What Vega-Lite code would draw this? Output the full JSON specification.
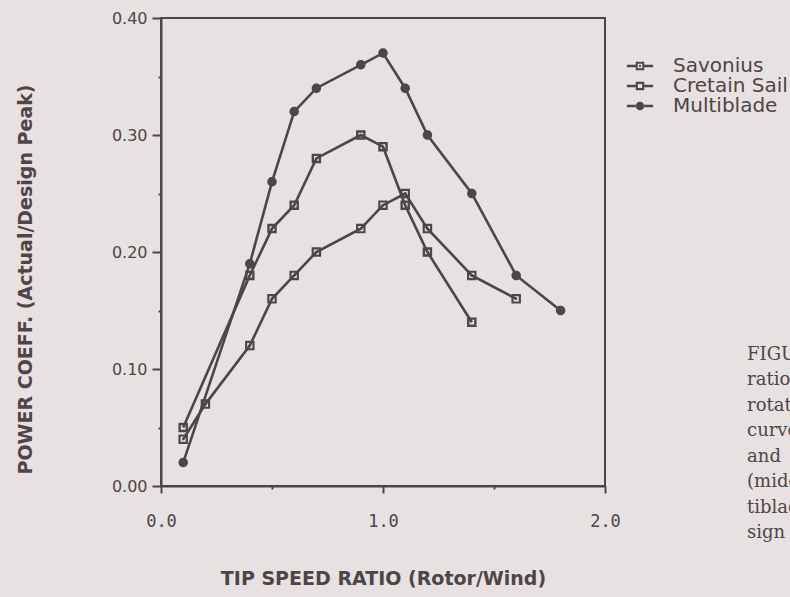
{
  "$schema": "https://vega.github.io/schema/vega-lite/v6.json",
  "width": 444,
  "height": 468,
  "autosize": {"type": "none"},
  "padding": {"left": 161, "top": 18, "right": 185, "bottom": 111},
  "background": "#e7e1e2",
  "datasets": {
    "curves": [
      {"rotor": "Savonius", "tsr": 0.1, "cp": 0.04},
      {"rotor": "Savonius", "tsr": 0.2, "cp": 0.07},
      {"rotor": "Savonius", "tsr": 0.4, "cp": 0.12},
      {"rotor": "Savonius", "tsr": 0.5, "cp": 0.16},
      {"rotor": "Savonius", "tsr": 0.6, "cp": 0.18},
      {"rotor": "Savonius", "tsr": 0.7, "cp": 0.20},
      {"rotor": "Savonius", "tsr": 0.9, "cp": 0.22},
      {"rotor": "Savonius", "tsr": 1.0, "cp": 0.24},
      {"rotor": "Savonius", "tsr": 1.1, "cp": 0.25},
      {"rotor": "Savonius", "tsr": 1.2, "cp": 0.22},
      {"rotor": "Savonius", "tsr": 1.4, "cp": 0.18},
      {"rotor": "Savonius", "tsr": 1.6, "cp": 0.16},
      {"rotor": "Cretain Sail", "tsr": 0.1, "cp": 0.05},
      {"rotor": "Cretain Sail", "tsr": 0.4, "cp": 0.18},
      {"rotor": "Cretain Sail", "tsr": 0.5, "cp": 0.22},
      {"rotor": "Cretain Sail", "tsr": 0.6, "cp": 0.24},
      {"rotor": "Cretain Sail", "tsr": 0.7, "cp": 0.28},
      {"rotor": "Cretain Sail", "tsr": 0.9, "cp": 0.30},
      {"rotor": "Cretain Sail", "tsr": 1.0, "cp": 0.29},
      {"rotor": "Cretain Sail", "tsr": 1.1, "cp": 0.24},
      {"rotor": "Cretain Sail", "tsr": 1.2, "cp": 0.20},
      {"rotor": "Cretain Sail", "tsr": 1.4, "cp": 0.14},
      {"rotor": "Multiblade", "tsr": 0.1, "cp": 0.02},
      {"rotor": "Multiblade", "tsr": 0.4, "cp": 0.19},
      {"rotor": "Multiblade", "tsr": 0.5, "cp": 0.26},
      {"rotor": "Multiblade", "tsr": 0.6, "cp": 0.32},
      {"rotor": "Multiblade", "tsr": 0.7, "cp": 0.34},
      {"rotor": "Multiblade", "tsr": 0.9, "cp": 0.36},
      {"rotor": "Multiblade", "tsr": 1.0, "cp": 0.37},
      {"rotor": "Multiblade", "tsr": 1.1, "cp": 0.34},
      {"rotor": "Multiblade", "tsr": 1.2, "cp": 0.30},
      {"rotor": "Multiblade", "tsr": 1.4, "cp": 0.25},
      {"rotor": "Multiblade", "tsr": 1.6, "cp": 0.18},
      {"rotor": "Multiblade", "tsr": 1.8, "cp": 0.15}
    ],
    "caption": [
      {"text": "FIGURE", "tsr": 2.64, "cp": 0.112},
      {"text": "ratio", "tsr": 2.64, "cp": 0.0906},
      {"text": "rotation", "tsr": 2.64, "cp": 0.0684},
      {"text": "curves", "tsr": 2.64, "cp": 0.047},
      {"text": "and", "tsr": 2.64, "cp": 0.0248},
      {"text": "(middle", "tsr": 2.64, "cp": 0.0034},
      {"text": "tiblade", "tsr": 2.64, "cp": -0.0188},
      {"text": "sign", "tsr": 2.64, "cp": -0.0402}
    ]
  },
  "layer": [
    {
      "data": {"name": "curves"},
      "mark": {"type": "line", "color": "#4e4546", "strokeWidth": 2.6},
      "encoding": {
        "x": {
          "field": "tsr", "type": "quantitative",
          "scale": {"domain": [0, 2], "nice": false, "zero": false},
          "axis": {
            "title": "TIP SPEED RATIO (Rotor/Wind)",
            "values": [0, 0.5, 1, 1.5, 2],
            "labelExpr": "round(datum.value*2) % 2 === 1 ? '' : format(datum.value, '.1f')",
            "tickSize": {"condition": {"test": "round(datum.value*2) % 2 === 1", "value": 3}, "value": 7},
            "labelFont": "DejaVu Sans Mono",
            "labelFontSize": 17,
            "labelPadding": 20,
            "titleFont": "DejaVu Sans",
            "titleFontWeight": "bold",
            "titleFontSize": 19,
            "titleY": 92,
            "titleBaseline": "middle",
            "grid": false
          }
        },
        "y": {
          "field": "cp", "type": "quantitative",
          "scale": {"domain": [0, 0.4], "nice": false, "zero": false},
          "axis": {
            "title": "POWER COEFF. (Actual/Design Peak)",
            "values": [0, 0.05, 0.1, 0.15, 0.2, 0.25, 0.3, 0.35, 0.4],
            "labelExpr": "round(datum.value*20) % 2 === 1 ? '' : format(datum.value, '.2f')",
            "tickSize": {"condition": {"test": "round(datum.value*20) % 2 === 1", "value": 3}, "value": 9},
            "labelFont": "DejaVu Sans",
            "labelFontSize": 16,
            "labelPadding": 5,
            "titleFont": "DejaVu Sans",
            "titleFontWeight": "bold",
            "titleFontSize": 19,
            "titleX": -136,
            "titleY": 261,
            "titleAngle": 270,
            "titleAlign": "center",
            "titleBaseline": "middle",
            "grid": false
          }
        },
        "detail": {"field": "rotor", "type": "nominal"}
      }
    },
    {
      "data": {"name": "curves"},
      "mark": {"type": "point", "filled": true, "color": "#4e4546", "size": 90, "opacity": 1, "strokeWidth": 0},
      "encoding": {
        "x": {"field": "tsr", "type": "quantitative", "scale": {"domain": [0, 2], "nice": false, "zero": false}},
        "y": {"field": "cp", "type": "quantitative", "scale": {"domain": [0, 0.4], "nice": false, "zero": false}},
        "shape": {
          "field": "rotor", "type": "nominal",
          "scale": {
            "domain": ["Savonius", "Cretain Sail", "Multiblade"],
            "range": [
              "M-1,-1H1V1H-1Z M-0.55,-0.55V0.55H0.55V-0.55Z M-0.22,-0.22H0.22V0.22H-0.22Z",
              "M-1,-1H1V1H-1Z M-0.5,-0.5V0.5H0.5V-0.5Z",
              "M-1,0A1,1 0 1,0 1,0A1,1 0 1,0 -1,0Z"
            ]
          },
          "legend": null
        }
      }
    },
    {
      "data": {"name": "curves"},
      "transform": [{"filter": "false"}],
      "mark": {"type": "point", "filled": true, "color": "#4e4546", "size": 72, "opacity": 1, "strokeWidth": 0},
      "encoding": {
        "x": {"field": "tsr", "type": "quantitative", "scale": {"domain": [0, 2], "nice": false, "zero": false}},
        "y": {"field": "cp", "type": "quantitative", "scale": {"domain": [0, 0.4], "nice": false, "zero": false}},
        "shape": {
          "field": "rotor", "type": "nominal",
          "scale": {
            "domain": ["Savonius", "Cretain Sail", "Multiblade"],
            "range": [
              "M-3.1,-0.28H-0.9V0.28H-3.1Z M0.9,-0.28H3.1V0.28H0.9Z M-1,-1H1V1H-1Z M-0.55,-0.55V0.55H0.55V-0.55Z M-0.22,-0.22H0.22V0.22H-0.22Z",
              "M-3.1,-0.28H-0.9V0.28H-3.1Z M0.9,-0.28H3.1V0.28H0.9Z M-1,-1H1V1H-1Z M-0.5,-0.5V0.5H0.5V-0.5Z",
              "M-3.1,-0.28H-0.9V0.28H-3.1Z M0.9,-0.28H3.1V0.28H0.9Z M-1,0A1,1 0 1,0 1,0A1,1 0 1,0 -1,0Z"
            ]
          },
          "legend": {
            "title": null,
            "orient": "none",
            "legendX": 469,
            "legendY": 38,
            "padding": 0,
            "symbolSize": 72,
            "symbolFillColor": "#4e4546",
            "symbolStrokeWidth": 0,
            "symbolOpacity": 1,
            "labelOffset": 23,
            "labelFont": "DejaVu Sans",
            "labelFontSize": 20,
            "labelColor": "#4e4546",
            "rowPadding": -2
          }
        }
      }
    },
    {
      "data": {"name": "caption"},
      "mark": {"type": "text", "align": "left", "baseline": "middle", "font": "DejaVu Serif", "fontSize": 18, "color": "#4e4546", "clip": false},
      "encoding": {
        "x": {"field": "tsr", "type": "quantitative", "scale": {"domain": [0, 2], "nice": false, "zero": false}},
        "y": {"field": "cp", "type": "quantitative", "scale": {"domain": [0, 0.4], "nice": false, "zero": false}},
        "text": {"field": "text"},
        "fontWeight": {"condition": {"test": "datum.text === 'FIGURE'", "value": "bold"}, "value": "normal"}
      }
    }
  ],
  "resolve": {"scale": {"shape": "independent"}},
  "config": {
    "view": {"stroke": "#4e4546", "strokeWidth": 2},
    "axis": {
      "domainColor": "#4e4546",
      "domainWidth": 2,
      "tickColor": "#4e4546",
      "tickWidth": 2,
      "labelColor": "#4e4546",
      "titleColor": "#4e4546",
      "labelFlush": false,
      "labelOverlap": false
    }
  }
}
